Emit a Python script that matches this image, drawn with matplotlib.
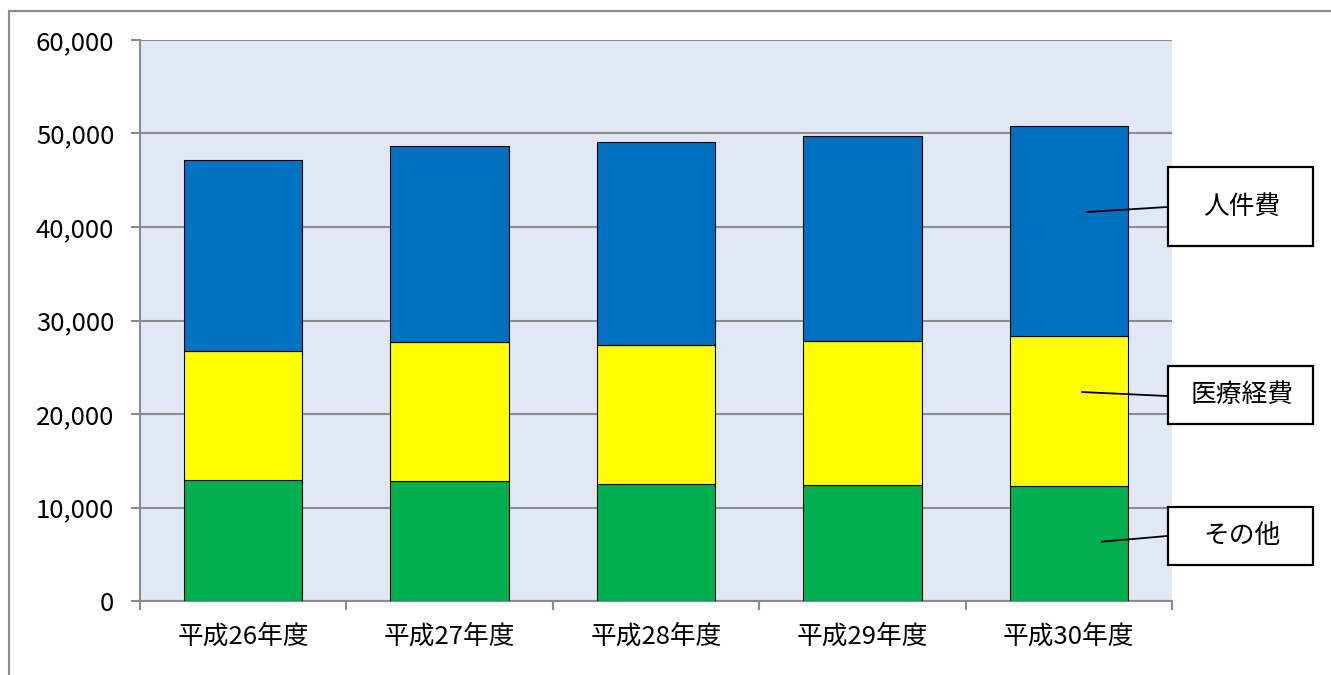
import numpy as np
import matplotlib
matplotlib.use("Agg")
import matplotlib.pyplot as plt
from matplotlib.patches import Rectangle
from matplotlib.lines import Line2D
from matplotlib.ticker import FuncFormatter

plt.rcParams['font.family'] = ['Noto Sans CJK JP', 'DejaVu Sans']

years = ['平成26年度', '平成27年度', '平成28年度', '平成29年度', '平成30年度']
sonota = [12900, 12850, 12550, 12450, 12250]
iryo = [13800, 14800, 14800, 15350, 16050]
jinken = [20500, 21050, 21750, 21900, 22500]
series_names = ['その他', '医療経費', '人件費']

W, H = 1331, 675
fig = plt.figure(figsize=(W / 100, H / 100), dpi=100)

def fx(px):
    return px / W

def fy(py):
    return 1 - py / H

# outer frame (cut off on the right and bottom like the original)
fig.patches.append(Rectangle((fx(9), fy(700)), fx(1400), fy(11) - fy(700),
                             transform=fig.transFigure, fill=False,
                             edgecolor='#8c8c8c', linewidth=1.6))

ax = fig.add_axes([fx(140), fy(601), fx(1172) - fx(140), fy(40) - fy(601)])
ax.set_facecolor('#e1e8f5')

x = np.arange(len(years))
w = 0.574
bottom2 = np.array(sonota)
bottom3 = bottom2 + np.array(iryo)
ax.bar(x, sonota, w, color='#00b050', edgecolor='black', linewidth=0.8, zorder=3)
ax.bar(x, iryo, w, bottom=bottom2, color='#ffff00', edgecolor='black', linewidth=0.8, zorder=3)
ax.bar(x, jinken, w, bottom=bottom3, color='#0070c0', edgecolor='black', linewidth=0.8, zorder=3)

ax.set_xlim(-0.5, len(years) - 0.5)
ax.set_ylim(0, 60000)
ax.set_yticks(np.arange(0, 60001, 10000))
ax.yaxis.set_major_formatter(FuncFormatter(lambda v, p: '{:,}'.format(int(v))))
ax.grid(axis='y', color='#8c8c8c', linewidth=1.5, zorder=1)
ax.set_axisbelow(True)

ax.set_xticks(x)
ax.set_xticklabels(years)
ax.set_xticks(np.arange(-0.5, len(years)), minor=True)
ax.tick_params(axis='x', which='major', length=0, pad=16, labelsize=18.5)
ax.tick_params(axis='x', which='minor', length=6.5, width=1.5, color='#8c8c8c')
ax.tick_params(axis='y', length=6.5, width=1.5, color='#8c8c8c', pad=12, labelsize=18.5)

for s in ['top', 'right']:
    ax.spines[s].set_visible(False)
for s in ['left', 'bottom']:
    ax.spines[s].set_color('#8c8c8c')
    ax.spines[s].set_linewidth(1.5)

# label boxes with leader lines
boxes = [
    ('人件費', 167, 246, 4.087, 41600, 207),
    ('医療経費', 366, 424, 4.064, 22350, 396),
    ('その他', 507, 565, 4.16, 6340, 536),
]
for name, top, bot, dx, dy, ly in boxes:
    fig.patches.append(Rectangle((fx(1168), fy(bot)), fx(1313) - fx(1168), fy(top) - fy(bot),
                                 transform=fig.transFigure, facecolor='white',
                                 edgecolor='black', linewidth=1.6, zorder=5))
    fig.text(fx(1242), fy((top + bot) / 2), name, ha='center', va='center',
             fontsize=18.5, zorder=6)
    px, py = ax.transData.transform((dx, dy))
    fig.lines.append(Line2D([px / W, fx(1167)], [py / H, fy(ly)],
                            transform=fig.transFigure, color='black',
                            linewidth=1.3, zorder=4))

fig.savefig('out.png', dpi=100)
